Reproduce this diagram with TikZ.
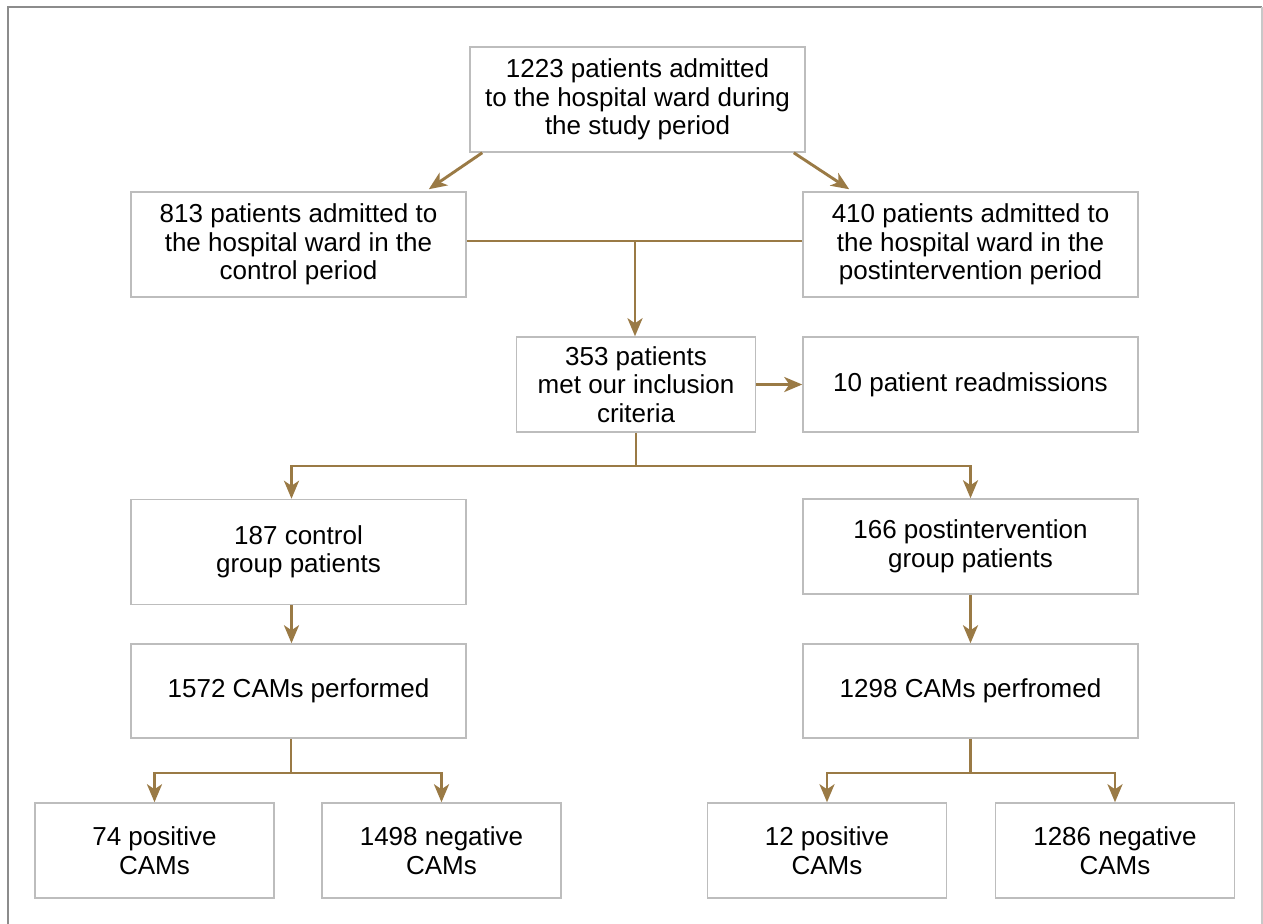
\documentclass[tikz,border=0pt]{standalone}
\usepackage{fontspec}
\setmainfont{Liberation Sans}
\usepackage{xcolor}
\usepackage{tikz}
\usetikzlibrary{arrows.meta}
\definecolor{flowgold}{HTML}{9A7A45}
\definecolor{boxgray}{HTML}{BDBDBD}
\definecolor{framegray}{HTML}{8C8C8C}
\definecolor{framelight}{HTML}{C8C8C8}

\begin{document}
\begin{tikzpicture}[
  x=0.5pt, y=-0.5pt,
  box/.style={draw=boxgray, line width=0.75pt, fill=white, align=center,
    minimum width=167.5pt, minimum height=52.5pt, inner sep=0pt,
    font=\fontsize{13}{14.25}\selectfont},
  smallbox/.style={box, minimum width=119.5pt, minimum height=47.5pt},
  flow/.style={draw=flowgold, line width=1.45pt},
  arr/.style={flow, -{Stealth[length=9pt, width=7.5pt, inset=2.5pt]}}
]
  \useasboundingbox (0,0) rectangle (1263,923);
  % outer frame
  \draw[framegray, line width=1pt] (8,930) -- (8,7) -- (1262,7);
  \draw[framelight, line width=1pt] (1262,7) -- (1262,930);

  % boxes
  \node[box] (admit) at (637.5,99.5) {1223 patients admitted\\to the hospital ward during\\the study period};
  \node[box] (ctlper) at (298.5,244.5) {813 patients admitted to\\the hospital ward in the\\control period};
  \node[box] (postper) at (970.5,244.5) {410 patients admitted to\\the hospital ward in the\\postintervention period};
  \node[smallbox] (incl) at (636,384.5) {353 patients\\met our inclusion\\criteria};
  \node[box, minimum height=47.5pt] (readm) at (970.5,384.5) {10 patient readmissions};
  \node[box] (ctlgrp) at (298.5,552) {187 control\\group patients};
  \node[box, minimum height=47.5pt] (postgrp) at (970.5,546.5) {166 postintervention\\group patients};
  \node[box, minimum height=47pt] (ctlcam) at (298.5,691) {1572 CAMs performed};
  \node[box, minimum height=47pt] (postcam) at (970.5,691) {1298 CAMs perfromed};
  \node[smallbox] (ctlpos) at (154.5,850.5) {74 positive\\CAMs};
  \node[smallbox] (ctlneg) at (441.5,850.5) {1498 negative\\CAMs};
  \node[smallbox] (postpos) at (827,850.5) {12 positive\\CAMs};
  \node[smallbox] (postneg) at (1115,850.5) {1286 negative\\CAMs};

  % connectors
  \coordinate (merge) at (635,241);
  \coordinate (split) at (636,466);
  \coordinate (ctlfork) at (291,773);
  \coordinate (postfork) at (970.5,773);

  \draw[arr] ([xshift=6.5pt]admit.south west) -- ([xshift=-19pt,yshift=1pt]ctlper.north east);
  \draw[arr] ([xshift=-6pt]admit.south east) -- ([xshift=23.5pt,yshift=1pt]postper.north west);
  \draw[flow] (ctlper.east |- merge) -- (postper.west |- merge);
  \draw[arr] (merge) -- (merge |- incl.north);
  \draw[arr] (incl.east) -- (readm.west);
  \draw[flow] (incl.south) -- (split);
  \draw[arr] (split) -| ([xshift=-3.5pt]ctlgrp.north);
  \draw[arr] (split) -| (postgrp.north);
  \draw[arr] ([xshift=-3.5pt]ctlgrp.south) -- ([xshift=-3.5pt]ctlcam.north);
  \draw[arr] (postgrp.south) -- (postcam.north);
  \draw[flow] (ctlfork |- ctlcam.south) -- (ctlfork);
  \draw[arr] (ctlfork) -| (ctlpos.north);
  \draw[arr] (ctlfork) -| (ctlneg.north);
  \draw[flow] (postcam.south) -- (postfork);
  \draw[arr] (postfork) -| (postpos.north);
  \draw[arr] (postfork) -| (postneg.north);
\end{tikzpicture}
\end{document}
